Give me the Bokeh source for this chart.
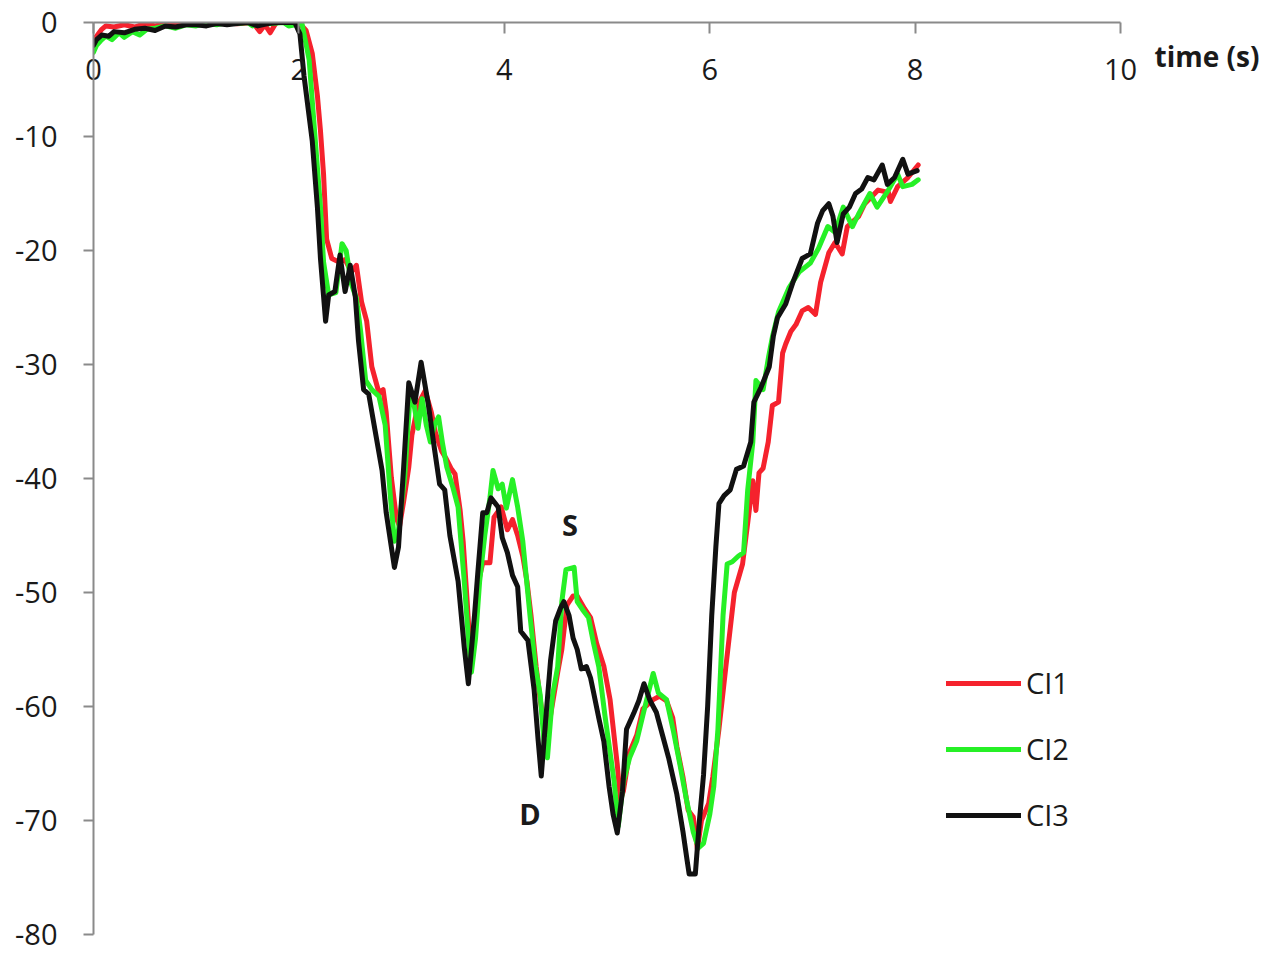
from bokeh.plotting import figure
from bokeh.models import Range1d, FixedTicker, Label, Legend, LegendItem
from bokeh.embed import file_html
from bokeh.resources import INLINE

# ---------------- data ----------------
CI1_t = [0, 0.03, 0.08, 0.12, 0.2, 0.3, 0.4, 0.5, 0.6, 0.7,
         0.8, 0.9, 1.0, 1.2, 1.4, 1.55, 1.62, 1.67, 1.72, 1.78,
         2.0, 2.07, 2.13, 2.18, 2.21, 2.24, 2.27, 2.32, 2.39, 2.45,
         2.51, 2.56, 2.61, 2.66, 2.71, 2.78, 2.82, 2.85, 2.9, 2.95,
         2.98, 3.02, 3.07, 3.1, 3.16, 3.23, 3.29, 3.33, 3.39, 3.43,
         3.48, 3.52, 3.57, 3.6, 3.64, 3.67, 3.71, 3.75, 3.79, 3.86,
         3.9, 3.97, 4.03, 4.08, 4.13, 4.18, 4.22, 4.26, 4.31, 4.35,
         4.4, 4.45, 4.52, 4.56, 4.61, 4.67, 4.71, 4.78, 4.84, 4.9,
         4.97, 5.03, 5.1, 5.13, 5.16, 5.22, 5.29, 5.35, 5.45, 5.51,
         5.58, 5.64, 5.68, 5.74, 5.79, 5.84, 5.88, 5.92, 5.99, 6.03,
         6.09, 6.16, 6.24, 6.32, 6.37, 6.42, 6.45, 6.48, 6.52, 6.57,
         6.61, 6.67, 6.71, 6.74, 6.79, 6.84, 6.9, 6.96, 7.03, 7.08,
         7.16, 7.22, 7.29, 7.34, 7.45, 7.51, 7.64, 7.74, 7.76, 7.83,
         7.93, 8.03]
CI1_v = [-1.6, -1.2, -0.6, -0.3, -0.4, -0.2, -0.4, -0.1, -0.3, -0.1,
         -0.2, 0, -0.1, 0, -0.1, 0, -0.8, -0.2, -0.9, 0,
         0, -0.7, -2.7, -6.4, -9.5, -13.3, -19, -20.7, -21, -20.8,
         -21.9, -21.3, -24.5, -26.2, -30.2, -32.5, -32.2, -34.2, -39.9, -43.5,
         -44.2, -42, -39, -36.2, -33.5, -32.3, -34.2, -36, -37.6, -38.2,
         -39.1, -39.6, -42.8, -45.6, -51, -55.5, -53, -49, -47.4, -47.4,
         -43.4, -42.5, -44.5, -43.6, -45, -46.8, -49, -52, -56.5, -59.4,
         -62.5, -60.8, -57, -55, -51.1, -50.3, -50.3, -51.4, -52.2, -54.5,
         -56.5, -59.4, -65.1, -68.2, -67.4, -64, -62.5, -60.2, -59.4, -59.1,
         -59.5, -61, -63.5, -66.2, -69.1, -69.7, -72.5, -70, -68.5, -66.2,
         -62, -56.3, -50, -47.5, -43.9, -40.2, -42.8, -39.5, -39.1, -36.8,
         -33.6, -33.3, -29, -28.2, -27.1, -26.5, -25.3, -25, -25.6, -22.8,
         -20.2, -19.3, -20.3, -17.9, -17, -15.9, -14.7, -14.9, -15.7, -14.4,
         -13.6, -12.5]

CI2_t = [0, 0.03, 0.07, 0.12, 0.18, 0.25, 0.3, 0.38, 0.45, 0.52,
         0.6, 0.7, 0.8, 0.9, 1.0, 1.1, 1.2, 1.3, 1.4, 1.5,
         1.55, 1.6, 1.7, 1.85, 1.9, 2.03, 2.1, 2.16, 2.21, 2.24,
         2.29, 2.36, 2.42, 2.46, 2.51, 2.56, 2.6, 2.65, 2.71, 2.78,
         2.84, 2.89, 2.93, 2.97, 3.03, 3.08, 3.12, 3.16, 3.2, 3.24,
         3.28, 3.32, 3.36, 3.4, 3.44, 3.5, 3.55, 3.61, 3.65, 3.68,
         3.72, 3.76, 3.81, 3.86, 3.89, 3.94, 3.98, 4.02, 4.08, 4.13,
         4.18, 4.25, 4.3, 4.35, 4.39, 4.42, 4.47, 4.52, 4.56, 4.6,
         4.68, 4.71, 4.77, 4.82, 4.87, 4.92, 4.98, 5.07, 5.11, 5.16,
         5.22, 5.29, 5.37, 5.45, 5.5, 5.58, 5.65, 5.71, 5.77, 5.84,
         5.89, 5.94, 6.0, 6.04, 6.08, 6.13, 6.17, 6.22, 6.28, 6.33,
         6.37, 6.42, 6.45, 6.52, 6.57, 6.61, 6.67, 6.77, 6.87, 6.98,
         7.06, 7.15, 7.22, 7.3, 7.39, 7.45, 7.56, 7.63, 7.74, 7.83,
         7.88, 7.97, 8.03]
CI2_v = [-2.6, -2.0, -1.6, -1.2, -1.5, -0.9, -1.3, -0.8, -1.1, -0.6,
         -0.5, -0.3, -0.5, -0.2, -0.3, -0.1, -0.2, 0, -0.1, 0,
         -0.3, 0, -0.1, 0, -0.3, -0.1, -3.3, -10.4, -16.2, -21,
         -23.9, -23.7, -19.4, -20, -22.9, -24.2, -27, -31.4, -32.2, -32.8,
         -35.3, -41.5, -45.5, -44.5, -39.9, -33, -33.5, -35.6, -33, -35.3,
         -36.8, -35.3, -34.6, -37, -39, -40.8, -42.5, -49, -54, -57,
         -54, -49, -45, -41.7, -39.3, -40.9, -40.5, -42.6, -40.1, -42.5,
         -45.5, -52, -56.3, -59, -63.5, -64.5, -59, -56.5, -50.8, -48,
         -47.8, -50.8, -51.6, -52.2, -54.5, -56.5, -60.8, -66.6, -70.5, -66.6,
         -64.5, -63, -60, -57.1, -58.8, -59.4, -62.3, -65.1, -68, -71,
         -72.4, -72, -69.5, -67, -62, -52, -47.5, -47.3, -46.8, -46.5,
         -41, -36.8, -31.4, -32.2, -29.5, -27.6, -25.4, -23.3, -21.9, -21.1,
         -19.8, -17.9, -18.4, -16.2, -17.9, -16.8, -15, -16.2, -14.7, -13.3,
         -14.4, -14.2, -13.8]

CI3_t = [0, 0.03, 0.08, 0.15, 0.2, 0.3, 0.4, 0.5, 0.6, 0.7,
         0.8, 0.9, 1.0, 1.1, 1.2, 1.3, 1.4, 1.5, 1.6, 1.7,
         1.8, 1.96, 2.01, 2.05, 2.13, 2.18, 2.21, 2.24, 2.26, 2.29,
         2.35, 2.4, 2.45, 2.5, 2.55, 2.58, 2.63, 2.68, 2.74, 2.81,
         2.85, 2.9, 2.93, 2.97, 3.02, 3.07, 3.13, 3.19, 3.26, 3.32,
         3.37, 3.42, 3.47, 3.55, 3.61, 3.65, 3.71, 3.74, 3.79, 3.83,
         3.87, 3.94, 3.98, 4.03, 4.08, 4.13, 4.16, 4.23, 4.29, 4.33,
         4.36, 4.4, 4.45, 4.5, 4.55, 4.58, 4.63, 4.67, 4.71, 4.75,
         4.8, 4.84, 4.87, 4.92, 4.97, 5.02, 5.06, 5.1, 5.15, 5.19,
         5.26, 5.31, 5.36, 5.42, 5.48, 5.54, 5.6, 5.68, 5.74, 5.78,
         5.8, 5.86, 5.9, 5.94, 5.98, 6.02, 6.06, 6.09, 6.14, 6.2,
         6.26, 6.33, 6.4, 6.43, 6.5, 6.58, 6.62, 6.66, 6.74, 6.81,
         6.9, 6.98, 7.05, 7.1, 7.16, 7.2, 7.24, 7.3, 7.36, 7.42,
         7.48, 7.54, 7.6, 7.68, 7.73, 7.8, 7.88, 7.93, 8.02]
CI3_v = [-2.0, -1.5, -1.1, -1.2, -0.8, -0.9, -0.6, -0.5, -0.7, -0.3,
         -0.4, -0.2, -0.2, -0.3, -0.1, -0.2, -0.1, 0, -0.3, -0.1,
         0, 0, -1, -4.7, -10.4, -16.2, -20.7, -24, -26.2, -23.9,
         -23.6, -20.4, -23.6, -21.3, -24.1, -27.9, -32.2, -32.6, -35.7, -39.3,
         -43, -46, -47.8, -46, -39, -31.6, -33.3, -29.8, -33.5, -37.4,
         -40.5, -41, -45, -49, -54.8, -58, -52, -48.5, -43, -43,
         -41.7, -42.5, -45.2, -46.5, -48.5, -49.5, -53.4, -54.2, -58.5, -63,
         -66.1, -61.5, -56, -52.5, -51.3, -50.8, -52, -54, -55, -56.7,
         -56.5, -57.5, -58.8, -61, -63.1, -67, -69.5, -71.1, -67.5, -62,
         -60.6, -59.5, -58, -59.5, -60.5, -62.5, -64.5, -67.7, -71, -73.5,
         -74.7, -74.7, -70, -66, -60, -52, -46, -42.2, -41.5, -41,
         -39.2, -38.9, -36.8, -33.3, -32, -30.2, -27.5, -25.9, -24.7, -22.8,
         -20.7, -20.3, -17.6, -16.5, -15.9, -17, -19.3, -16.8, -16.2, -15,
         -14.6, -13.6, -13.8, -12.5, -14.2, -13.6, -12, -13.3, -13]

series_names = ["CI1", "CI2", "CI3"]
x_ticks = [0, 2, 4, 6, 8, 10]
y_ticks = [-80, -70, -60, -50, -40, -30, -20, -10, 0]
y_tick_labels = ["-80", "-70", "-60", "-50", "-40", "-30", "-20", "-10", "0"]
x_title = "time (s)"
annotations = [("S", 4.64, -44.0), ("D", 4.25, -69.4)]

# ---------------- layout / styling ----------------
W, H = 1264, 954
LEFT, TOP, BOTTOM = 93, 22, 20
X10_PX = 1120                      # pixel where t = 10 sits
x_end = 10 * (W - LEFT) / (X10_PX - LEFT)

FONT = "Open Sans"
AXIS_GREY = "#8a8a8a"
TEXT_COL = "#1a1a1a"
colors = ["#f5222d", "#26f026", "#111111"]

p = figure(width=W, height=H, output_backend="svg", toolbar_location=None,
           x_range=Range1d(0, x_end), y_range=Range1d(-80, 0),
           x_axis_location="above",
           min_border_left=LEFT, min_border_right=0,
           min_border_top=TOP, min_border_bottom=BOTTOM)
p.outline_line_color = None
p.grid.visible = False
p.background_fill_color = "white"
p.border_fill_color = "white"

xa = p.xaxis[0]
xa.ticker = FixedTicker(ticks=x_ticks)
xa.bounds = (0, 10)
xa.axis_line_color = AXIS_GREY
xa.axis_line_width = 2
xa.major_tick_line_color = AXIS_GREY
xa.major_tick_line_width = 2
xa.major_tick_in = 11
xa.major_tick_out = 0
xa.minor_tick_line_color = None
xa.major_label_standoff = -57
xa.major_label_text_font = FONT
xa.major_label_text_font_size = "29px"
xa.major_label_text_color = TEXT_COL

ya = p.yaxis[0]
ya.ticker = FixedTicker(ticks=y_ticks)
ya.major_label_overrides = {t: l for t, l in zip(y_ticks, y_tick_labels)}
ya.bounds = (-80, 0)
ya.axis_line_color = AXIS_GREY
ya.axis_line_width = 2
ya.major_tick_line_color = AXIS_GREY
ya.major_tick_line_width = 2
ya.major_tick_in = 0
ya.major_tick_out = 10
ya.minor_tick_line_color = None
ya.major_label_standoff = 26
ya.major_label_text_font = FONT
ya.major_label_text_font_size = "29px"
ya.major_label_text_color = TEXT_COL

renderers = []
for ts, vs, c in [(CI1_t, CI1_v, colors[0]), (CI2_t, CI2_v, colors[1]), (CI3_t, CI3_v, colors[2])]:
    r = p.line(ts, vs, line_color=c, line_width=5, line_join="round", line_cap="round")
    renderers.append(r)

legend = Legend(items=[LegendItem(label=n, renderers=[r]) for n, r in zip(series_names, renderers)],
                location=(853, 100), orientation="vertical",
                glyph_width=75, glyph_height=30, label_height=30, spacing=27,
                label_standoff=5, padding=0, margin=0,
                border_line_color=None, background_fill_alpha=0,
                label_text_font=FONT, label_text_font_size="29px",
                label_text_color=TEXT_COL, label_text_baseline="middle")
p.add_layout(legend)

p.add_layout(Label(x=10, y=0, x_offset=34, y_offset=-33, text=x_title,
                   text_font=FONT, text_font_size="28px", text_font_style="bold",
                   text_color=TEXT_COL, text_align="left", text_baseline="middle"))

for txt, ax, ay in annotations:
    p.add_layout(Label(x=ax, y=ay, text=txt, text_font=FONT, text_font_size="29px",
                       text_font_style="bold", text_color=TEXT_COL,
                       text_align="center", text_baseline="middle"))

open("out.html", "w").write(file_html(p, INLINE))
